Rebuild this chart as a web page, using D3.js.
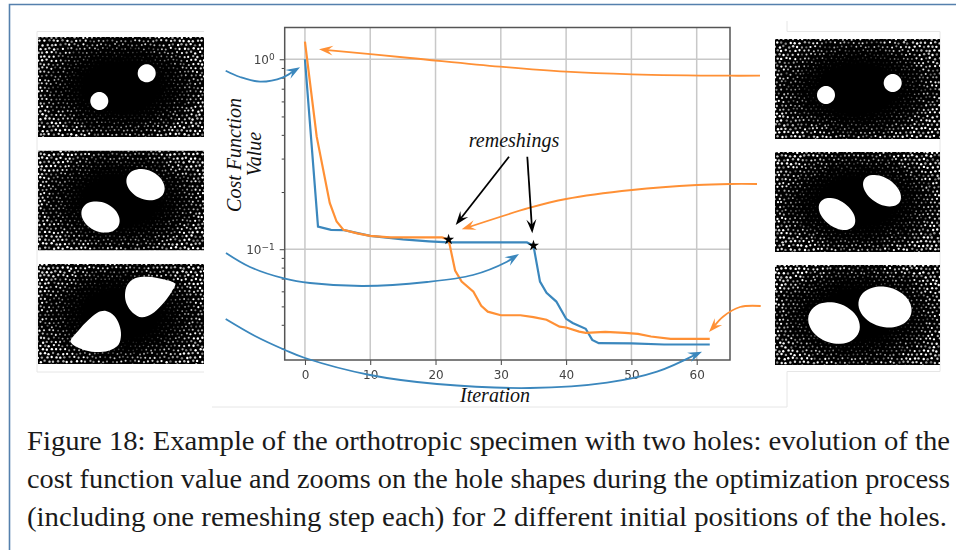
<!DOCTYPE html>
<html>
<head>
<meta charset="utf-8">
<script src="https://cdn.jsdelivr.net/npm/d3@7"></script>
<style>
  html, body { margin: 0; background: #fff; }
  svg { display: block; }
  .tick-text { font-family: "DejaVu Sans", sans-serif; font-size: 12px; fill: #444; }
  .note { font-family: "Liberation Serif", serif; font-style: italic; font-size: 20px; fill: #111; }
  .caption { font-family: "Liberation Serif", serif; font-size: 27px; fill: #1a1a1a; }
</style>
</head>
<body>
<svg width="956" height="550"></svg>
<script>
// values
const blueIter = [0, 2, 4, 6, 10, 15, 19, 22, 34, 35, 36, 37, 38.5, 40, 41, 43, 44, 45, 50, 55, 62];
const blueCost = [1.0, 0.1315, 0.1264, 0.126, 0.1175, 0.1126, 0.11, 0.1086, 0.1086, 0.1044, 0.0675, 0.0589, 0.053, 0.043, 0.0409, 0.0381, 0.0333, 0.032, 0.0319, 0.0315, 0.0315];
const orangeIter = [0, 1.8, 3.8, 4.85, 5.9, 8, 10, 13, 21, 22, 23, 24, 25.8, 27, 28, 30, 33, 35, 37, 39, 40, 42, 43, 46, 49, 51, 53, 56, 62];
const orangeCost = [1.238, 0.3915, 0.1753, 0.1398, 0.1264, 0.1211, 0.1175, 0.1154, 0.1154, 0.1123, 0.0772, 0.0675, 0.0598, 0.0503, 0.0469, 0.0449, 0.0449, 0.0439, 0.0425, 0.0391, 0.0387, 0.0368, 0.0363, 0.0367, 0.0363, 0.0358, 0.0347, 0.0337, 0.0337];
const remeshIter = [22, 35];
const remeshCost = [0.1123, 0.1044];
const xTicks = [0, 10, 20, 30, 40, 50, 60];
const yMajor = [1, 0.1];
const yMinor = [0.9, 0.8, 0.7, 0.6, 0.5, 0.4, 0.3, 0.2, 0.09, 0.08, 0.07, 0.06, 0.05, 0.04, 0.03];
const captionLines = [
  "Figure 18: Example of the orthotropic specimen with two holes: evolution of the",
  "cost function value and zooms on the hole shapes during the optimization process",
  "(including one remeshing step each) for 2 different initial positions of the holes."
];

const blue = "#3a87bd", orange = "#ff9035";

let svg = d3.select("svg");
let defs = svg.append("defs");
defs.append("filter").attr("id", "soft").append("feGaussianBlur").attr("stdDeviation", 0.45);

// slide frame
svg.append("path").attr("d", "M9.5,550V4.5H956").attr("fill", "none").attr("stroke", "#5580ad").attr("stroke-width", 1.6);

// outline of the pasted figure
svg.append("path")
  .attr("d", "M37,31.5H204M37,31.5V372H204M212,407H787V371.5H940V31.5H787V21")
  .attr("fill", "none").attr("stroke", "#e6e6e6").attr("stroke-width", 1);

/* MESH PANELS */
const hex = (list, ox, oy) => list.map(p => [ox + p[0] / 3, oy + p[1] / 3]);
function ellipse(cx, cy, rx, ry, deg) {
  let a = deg * Math.PI / 180;
  return d3.range(24).map(i => {
    let t = i / 24 * 2 * Math.PI;
    let ex = rx * Math.cos(t), ey = ry * Math.sin(t);
    return [cx + ex * Math.cos(a) - ey * Math.sin(a), cy + ex * Math.sin(a) + ey * Math.cos(a)];
  });
}
let panels = [
  {x: 38, y: 37, w: 166, h: 100, holes: [ellipse(146.7, 73.3, 9, 9, 0), ellipse(99.3, 101, 9, 9, 0)]},
  {x: 38, y: 150.5, w: 166, h: 100, holes: [ellipse(100.5, 217, 20, 14.5, 25), ellipse(145.5, 184.7, 20, 14.5, 25)]},
  {x: 38, y: 264, w: 166, h: 100, holes: [
    hex([[152,605],[175,572],[205,540],[232,518],[258,513],[283,528],[298,555],[303,585],[295,615],[265,632],[225,636],[185,627]], 20, 140),
    hex([[315,465],[322,435],[345,415],[385,410],[430,418],[465,432],[455,455],[425,495],[395,522],[365,532],[338,518],[320,492]], 20, 140)]},
  {x: 775, y: 39, w: 165, h: 100, holes: [ellipse(892.7, 83, 9, 9, 0), ellipse(826, 95, 9, 9, 0)]},
  {x: 775, y: 152, w: 165, h: 100, holes: [ellipse(837, 214, 20.5, 13, 36), ellipse(882, 190.7, 21, 13, 33)]},
  {x: 775, y: 265, w: 165, h: 100, holes: [ellipse(834, 323, 26.5, 20, 20), ellipse(885, 307, 27, 20, 15)]}
];

let hashNum = (a, b) => {
  let s = Math.sin(a * 12.9898 + b * 78.233) * 43758.5453;
  return s - Math.floor(s);
};
let holeLine = d3.line().curve(d3.curveCatmullRomClosed.alpha(0.5));

panels.forEach((p, pi) => {
  let clipId = "panel" + pi;
  defs.append("clipPath").attr("id", clipId)
    .append("rect").attr("x", p.x).attr("y", p.y).attr("width", p.w).attr("height", p.h);
  let g = svg.append("g").attr("clip-path", `url(#${clipId})`);
  g.append("rect").attr("x", p.x).attr("y", p.y).attr("width", p.w).attr("height", p.h).attr("fill", "#000");

  let dots = [];
  let step = 4.5, rowH = step * 0.866;
  for (let r = 0; r * rowH <= p.h + rowH; r++) {
    for (let c = 0; c * step <= p.w + step; c++) {
      let jx = (hashNum(r + pi * 3, c + 11) - 0.5) * 1.6;
      let jy = (hashNum(c + pi * 5, r + 29) - 0.5) * 1.6;
      let px = p.x + c * step + (r % 2 ? step / 2 : 0) + jx;
      let py = p.y + r * rowH + jy;
      let dx = (px - p.x - p.w / 2) / 84, dy = (py - p.y - p.h / 2) / 54;
      let a = Math.min(1, Math.max(0, (Math.sqrt(dx * dx + dy * dy) - 0.45) / 0.6));
      if (a > 0) dots.push({x: px, y: py, a: a, k: hashNum(r + pi * 7, c)});
    }
  }
  g.append("g").attr("filter", "url(#soft)").selectAll("circle")
    .data(dots).enter().append("circle")
    .attr("cx", d => d.x).attr("cy", d => d.y)
    .attr("r", d => 0.6 + 0.6 * d.a)
    .attr("fill", "#fff")
    .attr("opacity", d => Math.min(1, d.a * (0.45 + 0.9 * d.k)));

  g.append("g").attr("filter", "url(#soft)").selectAll("path")
    .data(p.holes).enter().append("path")
    .attr("d", d => holeLine(d)).attr("fill", "#fff");
});

/* PLOT */
let plotLeft = 284.7, plotRight = 730, plotTop = 27.5, plotBottom = 360;
let x = d3.scaleLinear().domain([-3.1, 65.1]).range([plotLeft, plotRight]);
let y = d3.scaleLog().domain([1.47, 0.0261]).range([plotTop, plotBottom]);

let plot = svg.append("g").attr("filter", "url(#soft)");

plot.append("g").selectAll("line").data(xTicks).enter().append("line")
  .attr("x1", d => x(d)).attr("x2", d => x(d))
  .attr("y1", plotTop).attr("y2", plotBottom)
  .attr("stroke", "#c8c8c8").attr("stroke-width", 1.5);
plot.append("g").selectAll("line").data(yMajor).enter().append("line")
  .attr("x1", plotLeft).attr("x2", plotRight)
  .attr("y1", d => y(d)).attr("y2", d => y(d))
  .attr("stroke", "#c8c8c8").attr("stroke-width", 1.5);

let xAxis = plot.append("g").attr("transform", `translate(0,${plotBottom})`)
  .call(d3.axisBottom(x).tickValues(xTicks).tickSize(5).tickPadding(5).tickFormat(d3.format("d")));
xAxis.select(".domain").remove();
xAxis.selectAll("text").attr("class", "tick-text").attr("font-size", null).attr("font-family", null);
xAxis.selectAll("line").attr("stroke", "#444");

let yMinorAxis = plot.append("g").attr("transform", `translate(${plotLeft},0)`)
  .call(d3.axisLeft(y).tickValues(yMinor).tickSize(3).tickFormat(""));
yMinorAxis.select(".domain").remove();
yMinorAxis.selectAll("line").attr("stroke", "#444");

let yAxis = plot.append("g").attr("transform", `translate(${plotLeft},0)`)
  .call(d3.axisLeft(y).tickValues(yMajor).tickSize(5).tickPadding(5).tickFormat(""));
yAxis.select(".domain").remove();
yAxis.selectAll("line").attr("stroke", "#444");
yAxis.selectAll(".tick text").each(function(d) {
  let t = d3.select(this).attr("class", "tick-text").attr("font-size", null).attr("font-family", null);
  t.append("tspan").text("10");
  t.append("tspan").attr("dy", "-0.45em").attr("font-size", "9px").text(d === 1 ? "0" : "\u22121");
});

plot.append("rect")
  .attr("x", plotLeft).attr("y", plotTop)
  .attr("width", plotRight - plotLeft).attr("height", plotBottom - plotTop)
  .attr("fill", "none").attr("stroke", "#555").attr("stroke-width", 1.5);

let costLine = d3.line().x(d => x(d[0])).y(d => y(d[1]));
plot.append("path").datum(d3.zip(blueIter, blueCost))
  .attr("d", costLine).attr("fill", "none").attr("stroke", blue).attr("stroke-width", 2.2);
plot.append("path").datum(d3.zip(orangeIter, orangeCost))
  .attr("d", costLine).attr("fill", "none").attr("stroke", orange).attr("stroke-width", 2.2);

plot.selectAll(".star").data(d3.zip(remeshIter, remeshCost)).enter().append("path")
  .attr("class", "star")
  .attr("transform", d => `translate(${x(d[0])},${y(d[1])})`)
  .attr("d", d3.symbol(d3.symbolStar, 38))
  .attr("fill", "#000");

/* ANNOTATION ARROWS, picture pixels */
const arrows = [
  {color: orange, w: 1.8, pts: [[760,75.7],[730,75.7],[632,74.3],[566,71.7],[500,66.7],[410,58],[319,49.3]]},
  {color: blue, w: 1.8, pts: [[225.7,70.7],[240,77],[260,81.7],[283,77.3],[300,67.3]]},
  {color: orange, w: 1.8, pts: [[757,184],[730,184],[697,185],[632,190],[566,199],[530,207.7],[461.7,229.3]]},
  {color: blue, w: 1.8, pts: [[226,253],[250,267],[285,278.7],[310,283],[363,286],[427,282],[473,275],[507,261.7],[519,254]]},
  {color: blue, w: 1.8, pts: [[225.7,319],[255,336],[285,350],[305,358],[370,375],[437,384],[530,388],[607,382.7],[657,371.7],[702,351.7]]},
  {color: orange, w: 1.8, pts: [[760.7,306],[740,307],[723,316.7],[709,332]]},
  {color: "#000", w: 1.8, pts: [[509,156.7],[455.7,225]]},
  {color: "#000", w: 1.8, pts: [[527.3,156.7],[532.3,233.3]]}
];
let arrowLine = d3.line().curve(d3.curveCatmullRom.alpha(0.5));
let arrowLayer = svg.append("g").attr("filter", "url(#soft)");
arrows.forEach(a => {
  let n = a.pts.length;
  let tip = a.pts[n - 1], prev = a.pts[n - 2];
  let ang = Math.atan2(tip[1] - prev[1], tip[0] - prev[0]);
  let len = 14, half = 5;
  let pt = (along, side) => [
    tip[0] - along * Math.cos(ang) - side * Math.sin(ang),
    tip[1] - along * Math.sin(ang) + side * Math.cos(ang)
  ];
  // stop the shaft inside the head so the point stays sharp
  let shaft = a.pts.slice(0, n - 1).concat([pt(6, 0)]);
  arrowLayer.append("path").attr("d", arrowLine(shaft))
    .attr("fill", "none").attr("stroke", a.color).attr("stroke-width", a.w);
  arrowLayer.append("path")
    .attr("d", "M" + [tip, pt(len, half), pt(len * 0.62, 0), pt(len, -half)].join("L") + "Z")
    .attr("fill", a.color);
});

/* TEXT */
svg.append("text").attr("class", "note").attr("x", 514).attr("y", 147).attr("text-anchor", "middle").text("remeshings");
svg.append("text").attr("class", "note").attr("x", 495).attr("y", 402).attr("text-anchor", "middle").text("Iteration");
svg.append("text").attr("class", "note").attr("transform", "translate(241,155) rotate(-90)").attr("text-anchor", "middle").text("Cost Function");
svg.append("text").attr("class", "note").attr("transform", "translate(261,154) rotate(-90)").attr("text-anchor", "middle").text("Value");

const captionY = [450, 488, 526];
const captionLen = [923, 923, 920];
svg.selectAll(".caption").data(captionLines).enter().append("text")
  .attr("class", "caption")
  .attr("x", 27).attr("y", (d, i) => captionY[i])
  .attr("textLength", (d, i) => captionLen[i])
  .attr("lengthAdjust", "spacingAndGlyphs")
  .text(d => d);
</script>
</body>
</html>
